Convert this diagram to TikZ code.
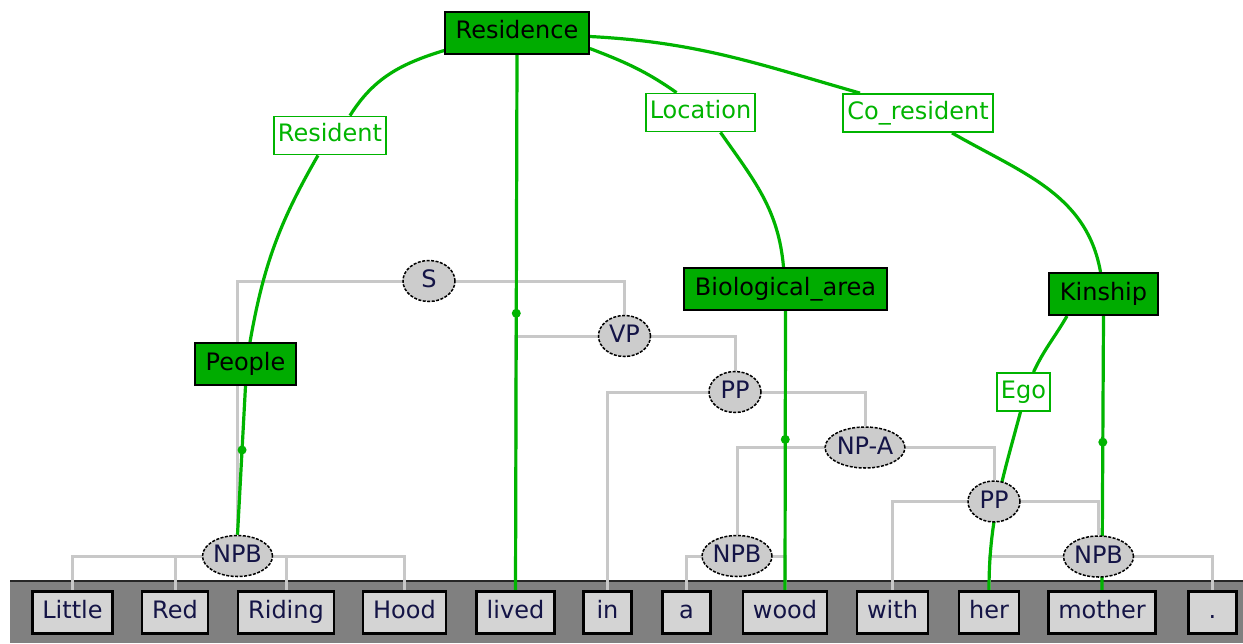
\documentclass[tikz,border=0pt]{standalone}
\usepackage{fontspec}
\setmainfont{DejaVu Sans}
\usetikzlibrary{shapes.geometric}
\definecolor{framegreen}{RGB}{0,172,0}
\definecolor{linkgreen}{RGB}{0,180,0}
\definecolor{treegray}{RGB}{200,200,200}
\definecolor{nodegray}{RGB}{204,204,204}
\definecolor{wordgray}{RGB}{212,212,212}
\definecolor{bargray}{RGB}{128,128,128}
\definecolor{catink}{RGB}{20,20,70}
\pgfdeclarelayer{bg}
\pgfdeclarelayer{tree}
\pgfdeclarelayer{links}
\pgfsetlayers{bg,tree,links,main}

\begin{document}
\begin{tikzpicture}[x=1pt,y=1pt,
  every node/.style={font=\fontsize{24}{28}\selectfont},
  frame/.style={draw=black, line width=2pt, fill=framegreen, text=black,
    inner xsep=10.5pt, inner ysep=0pt, minimum height=42pt,
    text height=17.5pt, text depth=5.5pt},
  role/.style={draw=linkgreen, line width=1.8pt, fill=white, text=linkgreen,
    inner xsep=4pt, inner ysep=0pt, minimum height=38pt,
    text height=17.5pt, text depth=5.5pt},
  cat/.style={ellipse, draw=black, dash pattern=on 3pt off 1.5pt, line width=1.5pt,
    fill=nodegray, text=catink, inner sep=0pt, minimum width=52pt, minimum height=41pt,
    text height=17.5pt, text depth=4pt},
  word/.style={draw=black, line width=2.5pt, fill=wordgray, text=catink,
    inner xsep=10pt, inner ysep=0pt, minimum width=48pt, minimum height=42pt,
    text height=17.5pt, text depth=5.5pt},
  branch/.style={treegray, line width=3pt},
  link/.style={linkgreen, line width=3.2pt},
  dot/.style={circle, fill=linkgreen, inner sep=0pt, minimum size=9pt},
]
\useasboundingbox (0,0) rectangle (1243,-643);

% background and word strip
\begin{pgfonlayer}{bg}
  \fill[white] (0,0) rectangle (1243,-643);
  \fill[bargray] (10,-580) rectangle (1243,-643);
  \draw[black!85, line width=2pt] (10,-581) -- (1243,-581);
\end{pgfonlayer}

% words
\node[word] (w1)  at (72.5,-612.5)  {Little};
\node[word] (w2)  at (175,-612.5)   {Red};
\node[word] (w3)  at (286,-612.5)   {Riding};
\node[word] (w4)  at (404.5,-612.5) {Hood};
\node[word] (w5)  at (515.5,-612.5) {lived};
\node[word] (w6)  at (607.5,-612.5) {in};
\node[word] (w7)  at (686.5,-612.5) {a};
\node[word] (w8)  at (785,-612.5)   {wood};
\node[word] (w9)  at (892.5,-612.5) {with};
\node[word] (w10) at (989,-612.5)   {her};
\node[word] (w11) at (1102,-612.5)  {mother};
\node[word] (w12) at (1212.5,-612.5){.};

% syntactic categories
\node[cat, minimum width=70pt] (NPB1) at (237.5,-556) {NPB};
\node[cat] (S)    at (429,-281) {S};
\node[cat] (VP)   at (624.5,-336) {VP};
\node[cat] (PP1)  at (735,-392) {PP};
\node[cat] (NPA)  at (865,-447.5) {NP-A};
\node[cat, minimum width=70pt] (NPB2) at (737,-556) {NPB};
\node[cat] (PP2)  at (994,-501.5) {PP};
\node[cat, minimum width=70pt] (NPB3) at (1098.5,-556.5) {NPB};

% frames
\node[frame] (Residence) at (517,-32.5) {Residence};
\node[frame] (People) at (245.5,-364) {People};
\node[frame] (Bio) at (785.5,-289) {Biological\_area};
\node[frame] (Kinship) at (1103.5,-294) {Kinship};

% frame element roles
\node[role] (Resident) at (330,-135.5) {Resident};
\node[role] (Location) at (700.5,-112.5) {Location};
\node[role] (CoRes) at (918,-113) {Co\_resident};
\node[role] (Ego) at (1023.5,-392) {Ego};

% parse tree branches
\begin{pgfonlayer}{tree}
  \foreach \w in {w1,w2,w3,w4} \draw[branch] (NPB1.center) -| (\w.north);
  \draw[branch] (S.center) -| (NPB1.north);
  \draw[branch] (S.center) -| (VP.north);
  \draw[branch] (VP.center) -| (w5.north);
  \draw[branch] (VP.center) -| (PP1.north);
  \draw[branch] (PP1.center) -| (w6.north);
  \draw[branch] (PP1.center) -| (NPA.north);
  \draw[branch] (NPA.center) -| (NPB2.north);
  \draw[branch] (NPA.center) -| (PP2.north);
  \draw[branch] (NPB2.center) -| (w7.north);
  \draw[branch] (NPB2.center) -| (w8.north);
  \draw[branch] (PP2.center) -| (w9.north);
  \draw[branch] (PP2.center) -| (NPB3.north);
  \draw[branch] (NPB3.center) -| (w10.north);
  \draw[branch] (NPB3.center) -| (w12.north);
\end{pgfonlayer}

% frame links
\begin{pgfonlayer}{links}
  \draw[link] ([yshift=4pt]Residence.south west) to[out=197,in=58] ([xshift=20pt]Resident.north);
  \draw[link] ([xshift=-12pt]Resident.south) to[out=240,in=80] ([xshift=4.5pt]People.north);
  \draw[link] (People.south) -- node[dot, pos=0.43] {} (NPB1.north);

  \draw[link] (Residence.south) -- node[dot, pos=0.483] {} (w5.north);

  \draw[link] ([yshift=6pt]Residence.south east) to[out=-21,in=145] ([xshift=-24pt]Location.north);
  \draw[link] ([xshift=20pt]Location.south) to[out=-55,in=95] ([xshift=-2pt]Bio.north);
  \draw[link] (Bio.south) -- node[dot, pos=0.46] {} (w8.north);

  \draw[link] ([yshift=-4pt]Residence.east) to[out=-3,in=164] ([xshift=-58pt]CoRes.north);
  \draw[link] ([xshift=34pt]CoRes.south) to[out=-30,in=100] ([xshift=-3pt]Kinship.north);
  \draw[link] (Kinship.south) -- node[dot, pos=0.46] {} (w11.north);

  \draw[link] ([xshift=-36.5pt]Kinship.south) to[out=240,in=65] ([xshift=10pt]Ego.north);
  \draw[link] ([xshift=-3pt]Ego.south) to[out=255,in=90] (w10.north);
\end{pgfonlayer}
\end{tikzpicture}
\end{document}
